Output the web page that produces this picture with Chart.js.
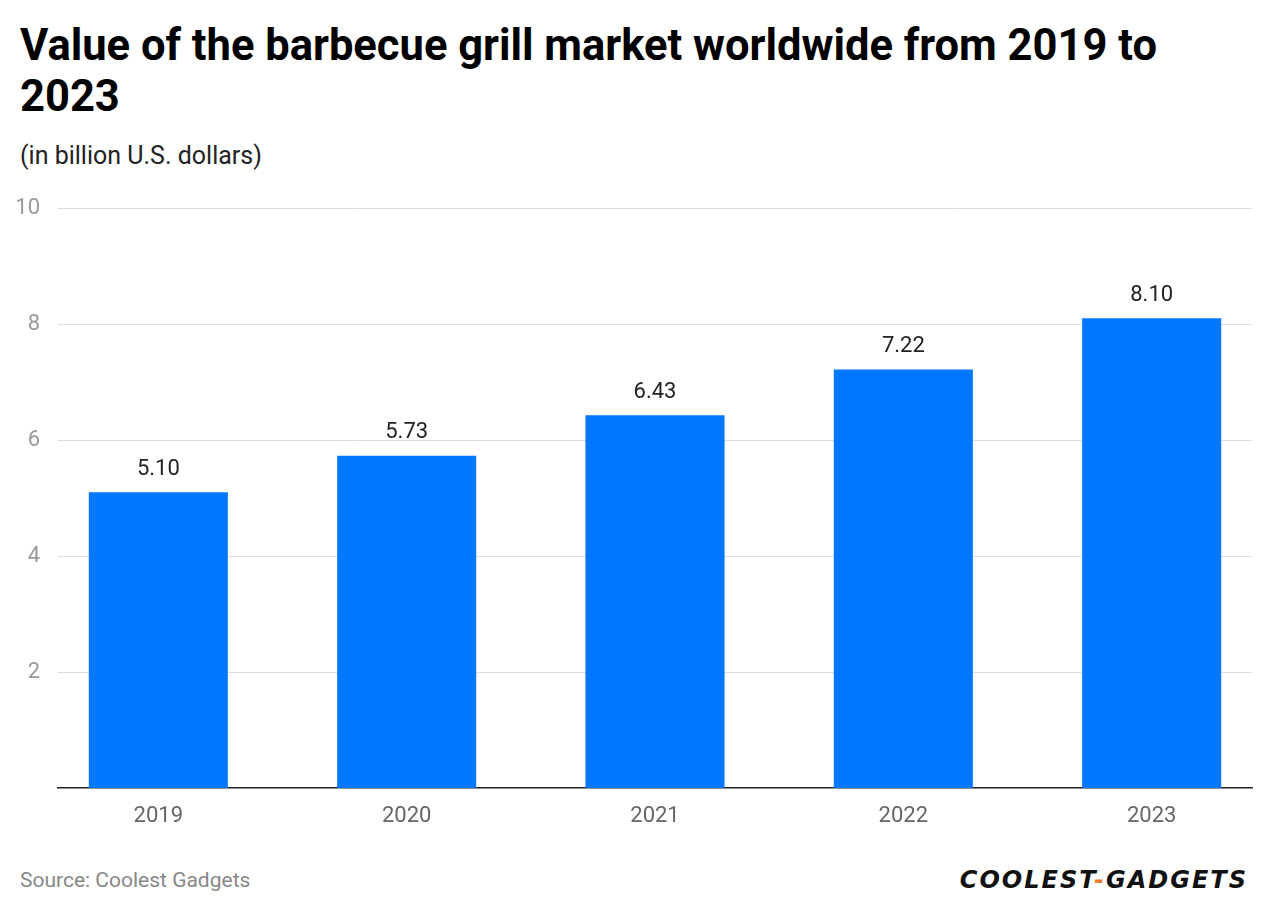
<!DOCTYPE html>
<html><head><meta charset="utf-8">
<script src="https://cdn.jsdelivr.net/npm/chart.js@4/dist/chart.umd.min.js"></script>
<style>
body{margin:0;width:1272px;height:914px;background:#fff;font-family:Roboto,sans-serif;position:relative;overflow:hidden}
#t{position:absolute;left:20px;top:20px;font-size:43.5px;font-weight:700;line-height:51px;color:#000;width:1180px}
#s{position:absolute;left:20px;top:141px;font-size:25px;color:#222}
#c{position:absolute;left:0;top:177px}
#src{position:absolute;left:20px;top:868px;font-size:21px;color:#888}
#logo{position:absolute;right:24px;top:866px;font-size:24px;font-weight:900;font-style:italic;letter-spacing:2px;color:#111;font-family:"DejaVu Sans",sans-serif}
#logo span{color:#f07b2e}
</style></head><body>
<div id="t">Value of the barbecue grill market worldwide from 2019 to 2023</div>
<div id="s">(in billion U.S. dollars)</div>
<canvas id="c" width="1272" height="658"></canvas>
<div id="src">Source: Coolest Gadgets</div>
<div id="logo">COOLEST<span>-</span>GADGETS</div>
<script>
const years = ['2019','2020','2021','2022','2023'];
const values = [5.10, 5.73, 6.43, 7.22, 8.10];
const yTicks = [2,4,6,8,10];
const pts = values.map((v,i)=>({x:i,y:v}));
const labelPlugin={id:'lbl',afterDatasetsDraw(ch){const ctx=ch.ctx;const m=ch.getDatasetMeta(0);ctx.save();ctx.font='22px Roboto';ctx.fillStyle='#222';ctx.textAlign='center';ctx.textBaseline='bottom';m.data.forEach((b,i)=>ctx.fillText(values[i].toFixed(2),b.x,b.y-12));ctx.restore();}};
new Chart(document.getElementById('c'),{type:'bar',
data:{datasets:[{data:pts,backgroundColor:'#0077ff',barPercentage:0.56,categoryPercentage:1}]},
options:{responsive:false,animation:false,layout:{padding:{top:0,right:20,left:0,bottom:0}},
plugins:{legend:{display:false},tooltip:{enabled:false}},
scales:{y:{min:0,max:10,afterFit(s){s.width=58},afterBuildTicks(s){s.ticks=yTicks.map(v=>({value:v}))},
grid:{color:'#dddddd',drawTicks:false},border:{display:false},
ticks:{font:{size:22,family:'Roboto'},color:'#999',padding:18}},
x:{type:'linear',offset:false,min:-0.404,max:4.404,afterFit(s){s.height=47},afterBuildTicks(s){s.ticks=years.map((y,i)=>({value:i}))},
grid:{display:false},border:{color:'#222',width:1.5},
ticks:{font:{size:22,family:'Roboto'},color:'#666',padding:7,callback:(v)=>years[v]}}}},
plugins:[labelPlugin]});
</script></body></html>
